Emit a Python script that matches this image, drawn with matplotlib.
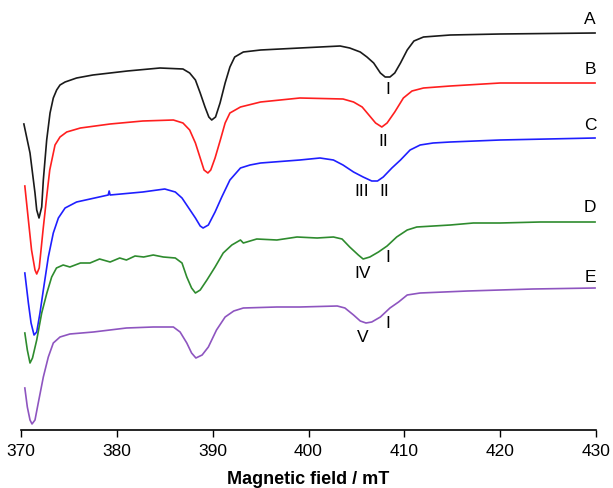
import matplotlib
matplotlib.use("Agg")
import matplotlib.pyplot as plt

plt.rcParams['font.family'] = ['Liberation Sans', 'DejaVu Sans']

# EPR spectra A-E, stacked with offsets (arbitrary units)
field_a = [370.3, 370.94, 371.46, 371.64, 371.88, 372.16, 372.33, 372.68, 373.03, 373.37, 373.72,
           374.07, 374.6, 375.8, 377.5, 381.1, 384.5, 386.9, 387.6, 388.2, 388.7, 389.2, 389.6,
           389.9, 390.3, 390.77, 391.3, 391.8, 392.3, 393.2, 395.0, 399.1, 403.3, 404.3, 405.4,
           406.1, 406.8, 407.5, 408.0, 408.5, 409.0, 409.6, 410.3, 411.0, 412.0, 414.8, 420.0,
           429.9]
int_a = [306, 277, 237, 220, 212, 223, 250, 290, 317, 332, 340,
         345, 348, 352, 355, 359, 362, 361, 357, 350, 337, 323, 313,
         310, 313, 327, 347, 363, 373, 378, 380, 382, 384, 382, 378,
         373, 367, 357, 353, 353, 357, 367, 380, 389, 393, 395, 396,
         397]

field_b = [370.4, 370.77, 371.1, 371.46, 371.64, 371.9, 372.3, 372.7, 373.0, 373.55, 374.07,
           374.77, 376.2, 379.3, 382.7, 385.9, 386.9, 387.6, 388.2, 388.7, 389.1, 389.5, 389.8,
           390.25, 390.8, 391.3, 391.8, 392.9, 395.0, 399.1, 403.6, 404.7, 405.6, 406.3, 407.0,
           407.65, 408.2, 409.0, 409.9, 410.8, 412.0, 414.8, 420.0, 429.9]
int_b = [244, 210, 180, 160, 156, 162, 200, 235, 260, 285, 293,
         298, 302, 306, 309, 310, 307, 300, 287, 272, 260, 257, 260,
         272, 290, 307, 317, 323, 328, 332, 331, 328, 323, 315, 307,
         303, 307, 318, 332, 339, 342, 344, 347, 347]

field_c = [370.4, 370.77, 371.05, 371.36, 371.64, 371.98, 372.33, 372.85, 373.37, 373.9, 374.6,
           375.8, 379.1, 379.2, 379.3, 382.7, 385.0, 386.1, 386.8, 387.5, 388.2, 388.7, 389.0,
           389.55, 390.25, 390.95, 391.8, 392.9, 393.9, 395.0, 399.1, 401.2, 402.6, 403.6,
           404.7, 405.7, 406.6, 407.2, 407.8, 408.7, 409.6, 410.6, 411.65, 413.0, 414.8,
           420.0, 429.9]
int_c = [157, 127, 107, 95, 98, 117, 140, 173, 197, 212, 222,
         228, 235, 239, 235, 238, 241, 238, 232, 222, 212, 204, 202,
         205, 218, 233, 250, 262, 265, 267, 270, 272, 270, 265,
         258, 253, 249, 249, 253, 262, 270, 280, 285, 287, 288,
         290, 292]

field_d = [370.4, 370.66, 370.94, 371.2, 371.64, 372.16, 372.7, 373.2, 373.7, 374.4, 375.1,
           376.2, 377.2, 378.2, 379.3, 380.3, 381.0, 381.9, 382.8, 383.8, 384.85, 386.1,
           386.8, 387.3, 387.8, 388.2, 388.7, 389.4, 390.25, 391.1, 392.0, 392.9, 393.2,
           394.6, 396.7, 398.8, 400.9, 402.6, 403.5, 404.3, 405.2, 405.7, 406.4, 407.3,
           408.2, 409.2, 410.3, 411.3, 414.8, 417.2, 420.0, 424.2, 427.0, 429.9]
int_d = [97, 80, 67, 72, 90, 117, 137, 153, 162, 165, 163,
         167, 167, 171, 168, 172, 170, 174, 173, 175, 173, 172,
         167, 153, 142, 137, 140, 150, 163, 177, 185, 190, 187,
         191, 190, 193, 192, 193, 191, 183, 175, 171, 173, 178,
         184, 193, 200, 203, 205, 207, 207, 208, 208, 208]

field_e = [370.4, 370.66, 370.94, 371.15, 371.46, 371.8, 372.33, 372.85, 373.37, 374.07, 375.1,
           377.55, 381.0, 383.8, 385.9, 386.6, 387.3, 387.8, 388.25, 388.9, 389.55, 390.4,
           391.3, 392.2, 393.2, 396.7, 399.1, 403.0, 403.8, 404.7, 405.4, 406.0, 406.6,
           407.5, 408.5, 409.4, 410.3, 411.65, 416.6, 423.4, 429.9]
int_e = [42, 23, 10, 6, 10, 27, 53, 73, 87, 93, 96,
         98, 102, 103, 103, 98, 87, 77, 72, 75, 83, 100,
         113, 119, 122, 123, 123, 124, 122, 115, 109, 107, 108,
         113, 122, 128, 135, 137, 139, 141, 142]

trace_names = ['A', 'B', 'C', 'D', 'E']
trace_colors = ['#1a1a1a', '#ff1f1f', '#1f1fff', '#2e8b2e', '#8e55c0']
name_y = [410, 360, 305, 222, 153]

# roman numeral peak labels: (text, field, y)
peak_labels = [('I', 408.3, 340), ('II', 407.8, 289), ('III', 405.6, 238),
               ('II', 407.9, 238), ('IV', 405.6, 157), ('I', 408.3, 173),
               ('V', 405.7, 93), ('I', 408.3, 107)]

fig = plt.figure(figsize=(6.13, 4.88), dpi=100)
ax = fig.add_axes([21 / 613, 58 / 488, 575 / 613, 430 / 488])

fields = [field_a, field_b, field_c, field_d, field_e]
ints = [int_a, int_b, int_c, int_d, int_e]
for f, y, c in zip(fields, ints, trace_colors):
    ax.plot(f, y, color=c, lw=1.2)

for name, y in zip(trace_names, name_y):
    ax.text(429.4, y, name, ha='center', va='center', fontsize=12.5)

for txt, x, y in peak_labels:
    ax.text(x, y, txt, ha='center', va='center', fontsize=12.5)

ax.set_xlim(370, 430)
ax.set_ylim(0, 430)
ax.set_xticks(range(370, 431, 10))
ax.tick_params(axis='x', direction='out', length=5, width=1, labelsize=12.5, pad=5)
ax.set_yticks([])
for s in ['left', 'right', 'top']:
    ax.spines[s].set_visible(False)
ax.spines['bottom'].set_linewidth(1.2)
ax.set_xlabel('Magnetic field / mT', fontsize=13, fontweight='bold', labelpad=9)

fig.savefig('out.png', dpi=100)
